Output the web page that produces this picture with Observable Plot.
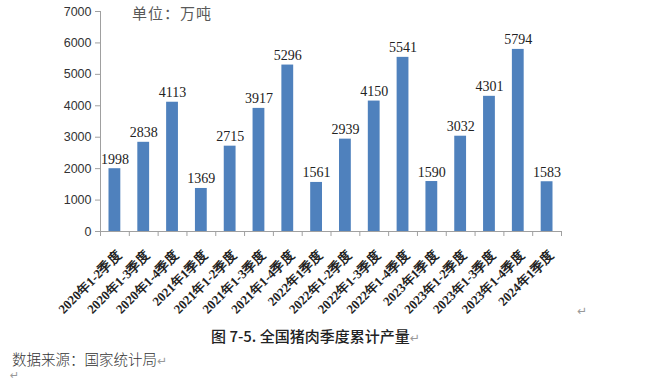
<!DOCTYPE html>
<html>
<head>
<meta charset="utf-8">
<script src="https://cdn.jsdelivr.net/npm/d3@7"></script>
<script src="https://cdn.jsdelivr.net/npm/@observablehq/plot@0.6"></script>
<style>
  html, body { margin: 0; padding: 0; background: #fff; }
  #wrap { position: relative; width: 646px; height: 382px; overflow: hidden; }
  #chart { position: absolute; left: 0; top: 0; }
  .note { position: absolute; white-space: nowrap; font-family: "Noto Sans CJK SC", sans-serif; }
  .ret { color: #999; font-family: "DejaVu Sans", sans-serif; font-size: 12px; font-weight: normal; }
</style>
</head>
<body>
<div id="wrap">
  <div id="chart"></div>
  <div class="note" style="left:132px; top:2px; font-size:15px; color:#595959; letter-spacing:1px;">单位：万吨</div>
  <div class="note" style="left:211px; top:325px; font-size:15px; color:#222; font-weight:500;">图 7-5. 全国猪肉季度累计产量<span class="ret">↵</span></div>
  <div class="note" style="left:12px; top:348px; font-size:14.5px; color:#333; font-weight:300;">数据来源：国家统计局<span class="ret">↵</span></div>
  <div class="note ret" style="left:577px; top:304px;">↵</div>
  <div class="note ret" style="left:10px; top:370px; font-size:11px; line-height:12px;">↵</div>
</div>
<script>
const categories = [
  "2020年1-2季度","2020年1-3季度","2020年1-4季度",
  "2021年1季度","2021年1-2季度","2021年1-3季度","2021年1-4季度",
  "2022年1季度","2022年1-2季度","2022年1-3季度","2022年1-4季度",
  "2023年1季度","2023年1-2季度","2023年1-3季度","2023年1-4季度",
  "2024年1季度"
];
const values = [1998, 2838, 4113, 1369, 2715, 3917, 5296, 1561, 2939, 4150, 5541, 1590, 3032, 4301, 5794, 1583];
const yTicks = [0, 1000, 2000, 3000, 4000, 5000, 6000, 7000];

const data = categories.map((c, i) => ({i, c, v: values[i]}));
const n = categories.length;
const bounds = d3.range(n + 1).map(k => k - 0.5);
const halfBar = 0.205;

const chart = Plot.plot({
  width: 646,
  height: 382,
  marginLeft: 100,
  marginRight: 85,
  marginTop: 11,
  marginBottom: 151,
  style: {fontFamily: "'Liberation Sans', sans-serif", background: "transparent"},
  x: {domain: [-0.5, n - 0.5], axis: null},
  y: {domain: [0, 7000], axis: null},
  marks: [
    Plot.rectY(data, {x1: d => d.i - halfBar, x2: d => d.i + halfBar, y: "v", fill: "#4F81BD"}),
    Plot.ruleY([0], {stroke: "#A0A0A0"}),
    Plot.ruleX([-0.5], {y1: 0, y2: 7000, stroke: "#A0A0A0"}),
    Plot.axisY({ticks: yTicks, tickSize: 5, tickPadding: 4, tickFormat: d3.format("d"), label: null,
      fontSize: 12.5, color: "#333", stroke: "#A0A0A0"}),
    Plot.axisX({ticks: bounds, tickSize: 5, tickFormat: () => "", label: null, stroke: "#A0A0A0"}),
    Plot.axisX({ticks: d3.range(n), tickSize: 0, tickFormat: i => categories[i], tickRotate: -45, label: null,
      fontSize: 13, fontWeight: "bold", fontFamily: "'Liberation Serif', serif", fill: "#222", dx: 4, dy: 10}),
    Plot.text(data, {x: "i", y: "v", text: d => String(d.v), lineAnchor: "bottom", dy: -5,
      fontSize: 14, fontFamily: "'Liberation Serif', serif", fill: "#222"})
  ]
});
document.getElementById("chart").appendChild(chart);
</script>
</body>
</html>
